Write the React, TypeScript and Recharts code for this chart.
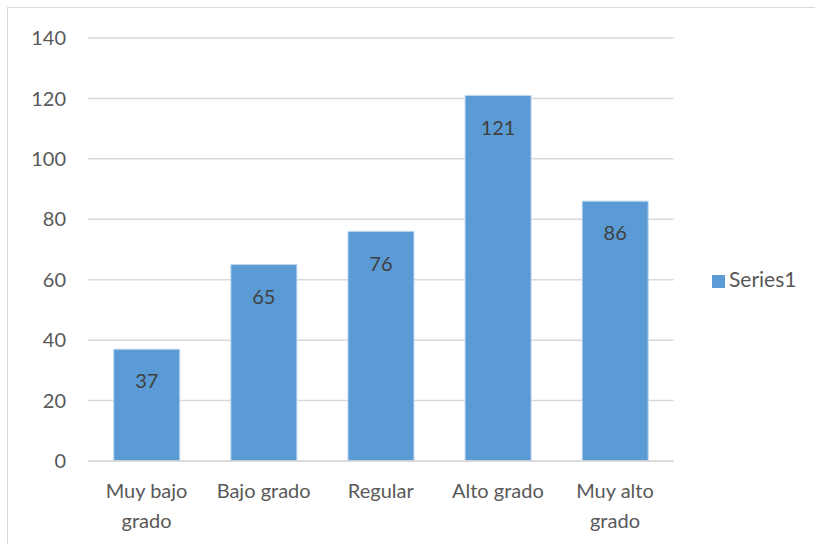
import { Bar, BarChart, CartesianGrid, LabelList, Legend, XAxis, YAxis } from "recharts"

const categories = ["Muy bajo grado", "Bajo grado", "Regular", "Alto grado", "Muy alto grado"]
const series1 = [37, 65, 76, 121, 86]
const yTicks = [0, 20, 40, 60, 80, 100, 120, 140]

const data = categories.map((name, i) => ({ name, Series1: series1[i] }))

const FONT = "Lato, 'Open Sans', sans-serif"
const TEXT = "#595959"

// break long labels onto two lines at the last space, like Excel does
function splitLabel(s: string) {
  if (s.length <= 10) return [s]
  const i = s.lastIndexOf(" ")
  return [s.slice(0, i), s.slice(i + 1)]
}

function CategoryTick(props: any) {
  const { x, y, payload } = props
  const lines = splitLabel(payload.value)
  return (
    <text x={x} y={y} textAnchor="middle" fill={TEXT} fontSize={20} fontFamily={FONT}>
      {lines.map((l, i) => (
        <tspan key={i} x={x} dy={i === 0 ? 37 : 30}>
          {l}
        </tspan>
      ))}
    </text>
  )
}

export default function App() {
  return (
    <div style={{ position: "absolute", left: 0, top: 0, width: 815, height: 544, background: "#fff", overflow: "hidden" }}>
      <div
        style={{
          position: "absolute",
          left: 7,
          top: 7,
          width: 820,
          height: 550,
          border: "1.5px solid #D9D9D9",
          boxSizing: "border-box",
        }}
      />
      <BarChart
        width={815}
        height={544}
        data={data}
        margin={{ top: 38, right: 47, bottom: 0, left: 0 }}
        barCategoryGap="22%"
        style={{ fontFamily: FONT }}
      >
        <CartesianGrid vertical={false} stroke="#D9D9D9" strokeWidth={1.5} />
        <XAxis
          dataKey="name"
          tickLine={false}
          axisLine={{ stroke: "#D9D9D9", strokeWidth: 1.5 }}
          tick={<CategoryTick />}
          tickSize={0}
          tickMargin={0}
          interval={0}
          height={83}
        />
        <YAxis
          domain={[0, 140]}
          ticks={yTicks}
          tickLine={false}
          axisLine={false}
          tickSize={0}
          tickMargin={22}
          width={88}
          tick={{ fill: TEXT, fontSize: 20, fontFamily: FONT }}
        />
        <Legend
          layout="vertical"
          align="right"
          verticalAlign="middle"
          iconType="square"
          iconSize={13}
          wrapperStyle={{ fontFamily: FONT, fontSize: 21, left: 712, top: 266 }}
          formatter={(value: string) => <span style={{ color: TEXT }}>{value}</span>}
        />
        <Bar dataKey="Series1" fill="#5B9BD5" stroke="#BDD7EE" strokeWidth={1} isAnimationActive={false}>
          <LabelList
            dataKey="Series1"
            position="insideTop"
            offset={25}
            fill="#404040"
            fontSize={20}
            fontFamily={FONT}
          />
        </Bar>
      </BarChart>
    </div>
  )
}
